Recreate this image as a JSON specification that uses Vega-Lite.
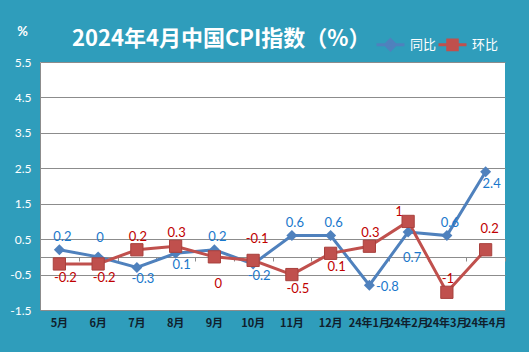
{
  "$schema": "https://vega.github.io/schema/vega-lite/v6.json",
  "width": 465,
  "height": 248,
  "autosize": {"type": "none"},
  "padding": {"left": 40, "top": 62, "right": 24, "bottom": 42},
  "background": "#2f9dbb",
  "title": {"text": "2024年4月中国CPI指数（%）", "anchor": "start", "frame": "group", "dx": 32, "offset": -26, "fontSize": 22, "font": "Noto Sans CJK SC", "fontWeight": "bold", "color": "white"},
  "config": {"view": {"stroke": null, "fill": "white"}},
  "data": {"values": [
    {"month": "5月", "series": "同比", "value": 0.2},
    {"month": "6月", "series": "同比", "value": 0},
    {"month": "7月", "series": "同比", "value": -0.3},
    {"month": "8月", "series": "同比", "value": 0.1},
    {"month": "9月", "series": "同比", "value": 0.2},
    {"month": "10月", "series": "同比", "value": -0.2},
    {"month": "11月", "series": "同比", "value": 0.6},
    {"month": "12月", "series": "同比", "value": 0.6},
    {"month": "24年1月", "series": "同比", "value": -0.8},
    {"month": "24年2月", "series": "同比", "value": 0.7},
    {"month": "24年3月", "series": "同比", "value": 0.6},
    {"month": "24年4月", "series": "同比", "value": 2.4},
    {"month": "5月", "series": "环比", "value": -0.2},
    {"month": "6月", "series": "环比", "value": -0.2},
    {"month": "7月", "series": "环比", "value": 0.2},
    {"month": "8月", "series": "环比", "value": 0.3},
    {"month": "9月", "series": "环比", "value": 0},
    {"month": "10月", "series": "环比", "value": -0.1},
    {"month": "11月", "series": "环比", "value": -0.5},
    {"month": "12月", "series": "环比", "value": 0.1},
    {"month": "24年1月", "series": "环比", "value": 0.3},
    {"month": "24年2月", "series": "环比", "value": 1},
    {"month": "24年3月", "series": "环比", "value": -1},
    {"month": "24年4月", "series": "环比", "value": 0.2}
  ]},
  "encoding": {
    "x": {"field": "month", "type": "ordinal", "sort": ["5月","6月","7月","8月","9月","10月","11月","12月","24年1月","24年2月","24年3月","24年4月"], "scale": {"type": "band", "paddingInner": 0, "paddingOuter": 0}, "axis": null},
    "y": {"field": "value", "type": "quantitative", "scale": {"domain": [-1.5, 5.5], "nice": false, "zero": false},
      "axis": {"title": "%", "titleAngle": 0, "titleX": -18, "titleY": -31, "titleAlign": "center", "titleBaseline": "middle", "titleColor": "white", "titleFontSize": 13, "titleFontWeight": "bold", "titleFont": "Lato",
        "values": [-1.5, -0.5, 0.5, 1.5, 2.5, 3.5, 4.5, 5.5], "labelExpr": "'' + datum.value", "labelColor": "white", "labelFont": "Lato", "labelFontSize": 12, "labelPadding": 9, "ticks": false, "gridColor": "#8c8c8c", "domainColor": "#8c8c8c"}}
  },
  "resolve": {"axis": {"x": "independent"}},
  "layer": [
    {
      "mark": {"type": "line", "strokeWidth": 3},
      "encoding": {
        "x": {"field": "month", "type": "ordinal", "sort": ["5月","6月","7月","8月","9月","10月","11月","12月","24年1月","24年2月","24年3月","24年4月"], "scale": {"type": "band", "paddingInner": 0, "paddingOuter": 0},
          "axis": {"orient": "bottom", "title": null, "domain": false, "ticks": false, "grid": false, "labelAngle": 0, "labelFont": "Noto Sans CJK SC", "labelFontWeight": "bold", "labelFontSize": 11, "labelColor": "#10202c", "labelPadding": 7}},
        "color": {"field": "series", "type": "nominal", "scale": {"domain": ["同比", "环比"], "range": ["#4f81bd", "#c0504d"]},
          "legend": {"orient": "none", "legendX": 335, "legendY": -33, "direction": "horizontal", "title": null, "labelColor": "white", "labelFontSize": 13, "labelFont": "Noto Sans CJK SC", "symbolSize": 784, "symbolStrokeWidth": 3, "labelOffset": 4, "columnPadding": -5,
            "encode": {"symbols": {"update": {
              "shape": {"signal": "datum.value === '同比' ? 'M-1,0L1,0M0,-0.36L0.36,0L0,0.36L-0.36,0Z' : 'M-1,0L1,0M-0.34,-0.34L0.34,-0.34L0.34,0.34L-0.34,0.34Z'"},
              "fill": {"signal": "datum.value === '同比' ? '#4f81bd' : '#c0504d'"},
              "stroke": {"signal": "datum.value === '同比' ? '#4f81bd' : '#c0504d'"},
              "strokeWidth": {"value": 3},
              "opacity": {"value": 1}
            }}}}}
      }
    },
    {
      "transform": [{"filter": {"field": "series", "equal": "同比"}}],
      "mark": {"type": "point", "shape": "diamond", "filled": true, "size": 120, "color": "#4f81bd", "opacity": 1}
    },
    {
      "transform": [{"filter": {"field": "series", "equal": "环比"}}],
      "mark": {"type": "square", "size": 150, "color": "#c0504d", "stroke": "#a8403d", "strokeWidth": 1, "opacity": 1},
      "encoding": {
        "x": {"field": "month", "type": "ordinal", "sort": ["5月","6月","7月","8月","9月","10月","11月","12月","24年1月","24年2月","24年3月","24年4月"], "scale": {"type": "band", "paddingInner": 0, "paddingOuter": 0},
          "axis": {"orient": "bottom", "title": null, "labels": false, "grid": false, "domain": true, "domainColor": "#8c8c8c", "ticks": true, "tickColor": "#8c8c8c", "tickSize": 4, "tickBand": "extent", "offset": -53}}
      }
    },
    {
      "transform": [{"filter": {"and": [{"field": "series", "equal": "同比"}, {"field": "month", "oneOf": ["5月", "9月", "11月", "12月", "24年3月"]}]}}],
      "mark": {"type": "text", "dy": -13, "dx": 3, "color": "#1a78cc", "fontSize": 13, "font": "Lato"},
      "encoding": {"text": {"field": "value", "type": "nominal"}}
    },
    {
      "transform": [{"filter": {"and": [{"field": "series", "equal": "同比"}, {"field": "month", "oneOf": ["6月"]}]}}],
      "mark": {"type": "text", "dy": -19, "dx": 2, "color": "#1a78cc", "fontSize": 13, "font": "Lato"},
      "encoding": {"text": {"field": "value", "type": "nominal"}}
    },
    {
      "transform": [{"filter": {"and": [{"field": "series", "equal": "同比"}, {"field": "month", "oneOf": ["7月", "8月", "10月", "24年4月"]}]}}],
      "mark": {"type": "text", "dy": 12, "dx": 6, "color": "#1a78cc", "fontSize": 13, "font": "Lato"},
      "encoding": {"text": {"field": "value", "type": "nominal"}}
    },
    {
      "transform": [{"filter": {"and": [{"field": "series", "equal": "同比"}, {"field": "month", "oneOf": ["24年1月"]}]}}],
      "mark": {"type": "text", "dy": 2, "dx": 18, "color": "#1a78cc", "fontSize": 13, "font": "Lato"},
      "encoding": {"text": {"field": "value", "type": "nominal"}}
    },
    {
      "transform": [{"filter": {"and": [{"field": "series", "equal": "同比"}, {"field": "month", "oneOf": ["24年2月"]}]}}],
      "mark": {"type": "text", "dy": 26, "dx": 4, "color": "#1a78cc", "fontSize": 13, "font": "Lato"},
      "encoding": {"text": {"field": "value", "type": "nominal"}}
    },
    {
      "transform": [{"filter": {"and": [{"field": "series", "equal": "环比"}, {"field": "month", "oneOf": ["7月", "8月", "24年1月", "24年3月"]}]}}],
      "mark": {"type": "text", "dy": -13, "dx": 1, "color": "#c00000", "fontSize": 13, "font": "Lato"},
      "encoding": {"text": {"field": "value", "type": "nominal"}}
    },
    {
      "transform": [{"filter": {"and": [{"field": "series", "equal": "环比"}, {"field": "month", "oneOf": ["24年2月"]}]}}],
      "mark": {"type": "text", "dy": -9, "dx": -9, "color": "#c00000", "fontSize": 13, "font": "Lato"},
      "encoding": {"text": {"field": "value", "type": "nominal"}}
    },
    {
      "transform": [{"filter": {"and": [{"field": "series", "equal": "环比"}, {"field": "month", "oneOf": ["10月", "24年4月"]}]}}],
      "mark": {"type": "text", "dy": -21, "dx": 4, "color": "#c00000", "fontSize": 13, "font": "Lato"},
      "encoding": {"text": {"field": "value", "type": "nominal"}}
    },
    {
      "transform": [{"filter": {"and": [{"field": "series", "equal": "环比"}, {"field": "month", "oneOf": ["5月", "6月", "11月", "12月"]}]}}],
      "mark": {"type": "text", "dy": 14, "dx": 6, "color": "#c00000", "fontSize": 13, "font": "Lato"},
      "encoding": {"text": {"field": "value", "type": "nominal"}}
    },
    {
      "transform": [{"filter": {"and": [{"field": "series", "equal": "环比"}, {"field": "month", "oneOf": ["9月"]}]}}],
      "mark": {"type": "text", "dy": 27, "dx": 4, "color": "#c00000", "fontSize": 13, "font": "Lato"},
      "encoding": {"text": {"field": "value", "type": "nominal"}}
    }
  ]
}
